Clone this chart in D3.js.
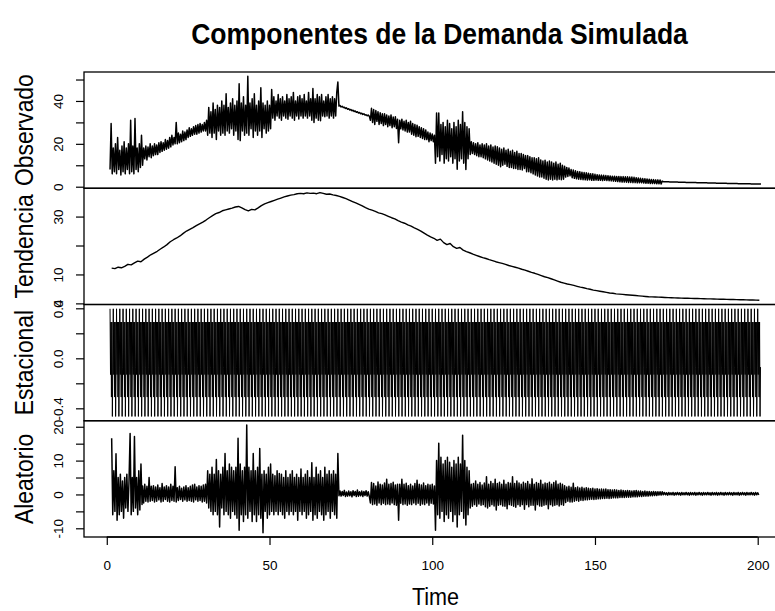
<!DOCTYPE html>
<html>
<head>
<meta charset="utf-8">
<script src="https://cdn.jsdelivr.net/npm/d3@7"></script>
<style>
  body { margin: 0; background: #fff; }
</style>
</head>
<body>
<div id="chart"></div>
<script>
/* Title and axis tick values */
var chartTitle = "Componentes de la Demanda Simulada";
var xLabel = "Time";
var xTicks = [0, 50, 100, 150, 200];
var panelNames = ["Observado", "Tendencia", "Estacional", "Aleatorio"];

var obsTicks = [0, 10, 20, 30, 40, 50];
var obsLabels = [0, 20, 40];
var trendTicks = [0, 10, 20, 30];
var trendLabels = [0, 10, 30];
var seasTicks = [-0.4, -0.2, 0, 0.2, 0.4];
var seasLabels = [-0.4, 0, 0.4];
var randTicks = [-10, -5, 0, 5, 10, 15, 20];
var randLabels = [-10, 0, 10, 20];

/* Observado, read in stretches, three readings per time unit */
var obsStep = 1 / 3;
var obsStarts = [1, 11, 31, 51, 71, 81, 101, 112, 143, 171];
var obs_t1 = [8, 29.5, 6, 18, 7, 20, 6, 23, 8, 17, 5.5, 19, 7, 21, 6, 18, 8, 20, 6, 31,
  7, 19, 6, 31.8, 8, 18, 7, 20, 9, 24];
var obs_t11 = [10, 18, 13, 19, 12.5, 18.5, 14, 20, 13.5, 19, 14.5, 20, 15, 19.5, 15, 20.5, 16, 21, 16.5, 20.5,
  17, 22, 17.5, 21.5, 18, 23, 18.6, 24, 19.5, 23, 20, 30, 20, 25, 20.5, 24.5, 21, 26, 21.5, 25.5,
  22, 26.5, 23, 27.5, 23.5, 27, 24, 28, 24.5, 28.5, 24.5, 29, 25, 29.5, 25.5, 29, 26, 30, 26, 31];
var obs_t31 = [24, 37, 25, 35, 23, 39, 25, 36, 22, 38, 26, 37, 24, 40, 25, 38, 24, 43.4, 26, 37,
  25, 39, 27, 41, 24, 38, 26, 40, 22, 48, 21.5, 39, 26, 42, 24, 38, 25, 51.5, 24, 39,
  27, 41, 23, 43.4, 26, 38, 24, 40, 26, 46.2, 23, 39, 27, 38, 25, 40, 26, 38, 27, 45.3];
var obs_t51 = [32, 42, 31, 40, 33, 43, 32, 41, 31, 42, 33, 40, 32, 43, 31.5, 41, 33, 42, 32, 44,
  31, 40, 33, 42, 31.6, 42.5, 33, 41, 32, 43, 33, 40, 32, 44, 33, 41, 31, 45.8, 30, 41,
  32, 43, 31, 42, 30.8, 43, 33, 40, 32.6, 42, 33, 43, 32, 41, 33, 42, 32, 41, 33, 44];
var obs_t71 = [48.8, 37.6, 37.9, 37.2, 37.5, 36.9, 37.1, 36.5, 36.8, 36.1, 36.4, 35.8, 36.0, 35.4, 35.7,
  35.1, 35.3, 34.7, 35.0, 34.4, 34.6, 34.0, 34.3, 33.7, 34.0, 33.4, 33.6, 33.1, 33.4, 32.9];
var obs_t81 = [31, 36.6, 30, 36, 29, 35.5, 30.5, 35, 29, 34.5, 29.5, 34, 28.5, 34, 29, 33.5, 28, 33, 28.5, 33.5,
  27.5, 32.5, 28, 32.6, 27.2, 31.5, 20.5, 31, 27, 31.5, 26.5, 30.5, 26, 31, 25.5, 30, 25.5, 30.5, 24.5, 29.5,
  24, 29, 23.3, 28.7, 23.5, 28, 23, 27.5, 22.5, 27, 22, 26.5, 22, 25.5, 21, 25, 21.5, 24.6, 21, 24];
var obs_t101 = [10.9, 34.4, 14, 34.4, 12, 29, 15, 30, 11, 28, 13, 31, 12, 29.5, 14, 27, 11, 30, 13, 28,
  8.1, 31, 12, 29, 13, 35, 11, 30, 8, 28, 13, 27, 15];
var obs_t112 = [21, 15.5, 20.5, 15, 20, 14.5, 20.5, 14, 19.5, 14, 20, 13.5, 19.5, 13, 20, 12.5, 19, 12, 19.5, 11.5,
  18.5, 11, 19, 10.5, 18.6, 10, 18, 9.3, 17.5, 10, 18, 10.5, 17, 9.5, 17.5, 9, 16.5, 9, 17, 8.5,
  16, 8.5, 16.5, 8, 15.5, 8, 15.5, 7.8, 15, 8.5, 14.5, 7, 14.5, 7, 14, 6.5, 13.5, 6, 13.5, 5.5,
  13, 5, 13.5, 4.5, 12.5, 4.5, 12, 4, 12.4, 3.5, 11.5, 3.1, 12, 3.5, 11.5, 3.1, 11, 3.5, 11.5, 3.2,
  10.5, 3.5, 11, 3.3, 10, 3.5, 9.5, 4.5, 9, 4.8, 8.7, 5.1, 8];
var obs_t143 = [4.2, 7.8, 3.9, 7.4, 3.7, 7.1, 3.5, 7.0, 3.4, 6.8, 3.3, 6.6, 3.2, 6.5, 3.1, 6.3, 3.2, 6.1, 3.0, 6.0,
  3.0, 5.8, 3.1, 5.6, 3.0, 5.5, 3.0, 5.4, 2.9, 5.3, 3.0, 5.2, 2.9, 5.1, 2.8, 5.0, 2.7, 4.9, 2.6, 4.9,
  2.5, 4.8, 2.4, 4.8, 2.3, 4.7, 2.2, 4.7, 2.2, 4.6, 2.1, 4.6, 2.0, 4.5, 2.0, 4.5, 1.9, 4.4, 1.9, 4.2,
  1.8, 4.1, 1.8, 3.9, 1.8, 3.8, 1.7, 3.7, 1.6, 3.6, 1.6, 3.5, 1.5, 3.4, 1.5, 3.3, 1.5, 3.2, 1.4, 3.2,
  1.4, 3.1, 1.3, 2.6];
var obs_t171 = [2.35, 2.33, 2.31, 2.30, 2.28, 2.26, 2.25, 2.23, 2.21, 2.20,
  2.18, 2.17, 2.15, 2.14, 2.12, 2.11, 2.09, 2.08, 2.06, 2.05,
  2.04, 2.02, 2.01, 2.00, 1.98, 1.97, 1.96, 1.94, 1.93, 1.92,
  1.91, 1.89, 1.88, 1.87, 1.86, 1.85, 1.83, 1.82, 1.81, 1.80,
  1.79, 1.77, 1.76, 1.75, 1.74, 1.72, 1.71, 1.70, 1.69, 1.67,
  1.66, 1.65, 1.64, 1.62, 1.61, 1.60, 1.59, 1.57, 1.56, 1.55,
  1.54, 1.52, 1.51, 1.50, 1.49, 1.47, 1.46, 1.45, 1.44, 1.43,
  1.42, 1.41, 1.40, 1.39, 1.38, 1.37, 1.36, 1.35, 1.34, 1.33,
  1.33, 1.32, 1.32, 1.31, 1.31, 1.30, 1.30, 1.30, 1.29, 1.29, 1.29];

/* Tendencia: moving average, one reading per time unit from 1.5 to 200.5 */
var trendStart = 1.5, trendStep = 1;
var tendencia = [
  12.2, 12.0, 12.5, 12.3, 12.8, 13.5, 13.3, 14.0, 14.6, 14.4,
  15.3, 16.0, 16.8, 17.4, 18.0, 18.8, 19.5, 20.3, 21.3, 22.0,
  22.6, 23.3, 24.2, 25.0, 25.6, 26.2, 26.9, 27.5, 28.1, 28.8,
  29.6, 30.3, 31.0, 31.4, 32.0, 32.3, 32.6, 32.9, 33.3, 33.5,
  33.0, 32.4, 32.0, 32.5, 32.3, 33.0, 33.8, 34.4, 34.8, 35.2,
  35.6, 36.0, 36.4, 36.8, 37.1, 37.4, 37.6, 37.9, 38.0, 37.9,
  38.2, 38.0, 38.1, 37.9, 38.3, 38.0, 37.7, 37.8, 37.5, 37.3,
  37.0, 36.6, 36.2, 35.7, 35.2, 34.7, 34.2, 33.7, 33.1, 32.6,
  32.2, 31.8, 31.3, 31.0, 30.6, 30.1, 29.6, 29.2, 28.6, 28.1,
  27.7, 27.1, 26.7, 26.1, 25.6, 25.0, 24.3, 23.6, 23.0, 22.5,
  21.8, 22.2, 21.0, 20.3, 20.7, 19.6, 19.0, 19.3, 18.4, 17.9,
  17.5, 17.0, 16.6, 16.2, 15.8, 15.5, 15.1, 14.8, 14.4, 14.1,
  13.8, 13.5, 13.1, 12.8, 12.5, 12.2, 11.8, 11.5, 11.1, 10.7,
  10.4, 10.0, 9.6, 9.2, 8.9, 8.5, 8.1, 7.7, 7.3, 7.0,
  6.7, 6.5, 6.2, 5.9, 5.6, 5.4, 5.1, 4.9, 4.6, 4.4,
  4.2, 4.0, 3.8, 3.6, 3.5, 3.3, 3.2, 3.1, 3.0,
  2.9, 2.8, 2.7, 2.6, 2.5, 2.4, 2.3, 2.25, 2.2, 2.15, 2.1,
  2.05, 2.0, 1.95, 1.9, 1.86, 1.82, 1.78, 1.75, 1.72, 1.69,
  1.66, 1.63, 1.6, 1.57, 1.54, 1.51, 1.48, 1.45, 1.42, 1.39,
  1.36, 1.33, 1.3, 1.27, 1.24, 1.21, 1.18, 1.15, 1.12, 1.1
];

/* Estacional: seasonal figure of one period (7 values), repeated over 200 periods */
var seasStart = 1, seasPeriods = 200;
var estacional = [0.396, -0.13, 0.29, -0.31, 0.29, -0.465, -0.07];

/* Aleatorio, read in stretches, three readings per time unit */
var randStep = 1 / 3;
var randStarts = [1.5, 11, 31, 71, 81, 101, 112, 141, 171];
var rand_t1 = [16.6, -6, 7, -5, 12, -7.6, 5, -6, 6, -5, 4, -7, 5, -4, 6, -5, 4, 18, -6, 5,
  -5, 17.1, -4, 5, -6, 7, -4.6, 9, -3];
var rand_t11 = [2.5, -2.5, 3, -2, 2.4, -2.2, 5, -2, 2.4, -1.8, 2.6, -2.2, 2.2, -2, 2.8, -1.6, 2, -2.2, 3.2, -2,
  2.2, -1.5, 2.6, -2, 2.2, -2.2, 3, -1.8, 2.4, -2, 8.2, -2.2, 2, -1.8, 2.4, -1.5, 1.8, -2, 2.2, -1.6,
  2.6, -2, 2, -1.8, 2.4, -2, 2.8, -2.2, 3, -1.6, 2.2, -2, 2.6, -1.8, 2.4, -2.2, 2.8, -2, 3, -2.5];
var rand_t31 = [7, -4, 6, -5, 8, -6, 6, -5, 10.3, -6, 7, -9.6, 6, -4, 8, -6, 12.1, -5, 7, -6,
  9, -7, 8, -5, 7, -6, 8, -7, 16.6, -10.6, 9, -6, 7, -8, 8, -6, 20.5, -7, 8, -5,
  7, -8, 12.1, -6, 7, -8, 8, -6, 13.6, -7, 6, -11.3, 7, -5, 6, -7, 8, -6, 9, -5,
  6, -6, 5.5, -5, 7, -6, 6.2, -5, 6, -6, 5, -7, 7, -5, 5, -6, 6, -5, 7, -6,
  5, -5, 6, -7.6, 5, -5, 7.5, -6, 5, -5, 6, -7, 7, -6, 5, -5, 9.4, -7.6, 5, -6,
  8, -7, 6, -5, 7, -6, 5, -7.6, 8, -6, 6, -5, 7, -7, 6, -5, 7, -6, 6, -7];
var rand_t71 = [12.1, -0.4, 1, -0.5, 0.9, -0.3, 1.2, -0.6, 0.7, -0.5, 1, -0.4, 0.8, -0.7, 1.1,
  -0.3, 0.9, -0.6, 1.3, -0.5, 0.8, -0.4, 1, -0.6, 0.9, -0.3, 1.1, -0.5, 0.8, -0.6];
var rand_t81 = [-2.5, 3.5, -3, 3.2, -2.8, 2.5, -3.2, 3.7, -2.5, 3, -3, 2.8, -2.6, 3.4, -3, 4.5, -2.8, 3, -3, 3.2,
  -2.5, 3.6, -3, 2.8, -3.2, 3, -7.6, 3, -2.6, 4.5, -3, 3, -2.8, 3.3, -3.2, 2.6, -2.8, 3, -3, 2.5,
  -2.5, 3.2, -3, 4.2, -2.6, 3, -3.2, 2.8, -2.8, 3.4, -3, 2.6, -2.5, 3, -3.2, 2.8, -2.6, 3, -2.8, 2.5];
var rand_t101 = [-10.6, 10, -6, 15.1, -7, 11, -5, 9, -8, 10, -6, 11, -7, 9.5, -5, 8, -8, 10, -6, 9,
  -9.6, 11, -6, 9, -5, 17.5, -7, 10, -9, 8, -6, 7, -4];
var rand_t112 = [3, -3.5, 3.2, -3, 4, -3.5, 3, -2.8, 3.5, -3.2, 2.8, -3, 3.4, -3.6, 5.2, -4, 3, -3.5, 3.8, -3,
  3.2, -3.4, 4.5, -4.6, 3.2, -3.2, 3.6, -3, 3, -3.4, 4.2, -3.5, 3, -4.2, 3.5, -3, 3.3, -3.2, 5.2, -3.5,
  3.2, -3.8, 4, -3, 3.4, -3.5, 3, -3, 3.6, -4.4, 3.2, -3, 3.8, -3.6, 3, -3.2, 4.6, -3.2, 3, -4.6,
  3.5, -3, 3.2, -3.4, 4.2, -3.5, 3, -3.2, 3.4, -3, 3.2, -4.2, 3.6, -3, 3, -3.4, 3.5, -3.2, 4, -3,
  3, -3.4, 3.3, -3, 3, -3.2, 2.6];
var rand_t141 = [-2.4, 2.2, -2, 2.4, -2.2, 2.1, -2.2, 3.3, -2, 2, -1.8, 2.2, -2, 1.9, -1.7, 2.1, -1.8, 1.8, -1.6, 2,
  -1.6, 1.8, -1.5, 1.7, -1.4, 1.8, -1.5, 1.6, -1.4, 1.7, -1.3, 1.5, -1.3, 1.6, -1.2, 1.5, -1.2, 1.6, -1.1, 1.4,
  -1.2, 1.4, -1.1, 1.3, -1, 1.4, -1, 1.3, -1, 1.2, -0.9, 1.3, -0.9, 1.2, -0.9, 1.1, -0.8, 1.2, -0.8, 1.1,
  -0.8, 1, -0.7, 1.1, -0.7, 1.2, -0.7, 1, -0.6, 1, -0.6, 0.9, -0.5, 1, -0.5, 0.9, -0.5, 0.9, -0.4, 0.8,
  -0.4, 0.9, -0.3, 0.8, -0.3, 0.8, -0.2, 0.8, -0.2, 0.8];
var rand_t171 = [-0.1, 0.6, -0.1, 0.5, -0.2, 0.6, -0.1, 0.5, -0.1, 0.6,
  -0.2, 0.5, -0.1, 0.6, -0.1, 0.5, -0.2, 0.6, -0.1, 0.5,
  -0.1, 0.6, -0.1, 0.5, -0.2, 0.6, -0.1, 0.5, -0.1, 0.6,
  -0.2, 0.5, -0.1, 0.6, -0.1, 0.5, -0.2, 0.6, -0.1, 0.5,
  -0.1, 0.6, -0.1, 0.5, -0.2, 0.6, -0.1, 0.5, -0.1, 0.6,
  -0.2, 0.5, -0.1, 0.6, -0.1, 0.5, -0.2, 0.6, -0.1, 0.5,
  -0.1, 0.6, -0.1, 0.5, -0.2, 0.6, -0.1, 0.5, -0.1, 0.6,
  -0.2, 0.5, -0.1, 0.6, -0.1, 0.5, -0.2, 0.6, -0.1, 0.5,
  -0.1, 0.6, -0.1, 0.5, -0.2, 0.6, -0.1, 0.5, -0.1];

var obsStretches = [obs_t1, obs_t11, obs_t31, obs_t51, obs_t71, obs_t81, obs_t101, obs_t112, obs_t143, obs_t171];
var randStretches = [rand_t1, rand_t11, rand_t31, rand_t71, rand_t81, rand_t101, rand_t112, rand_t141, rand_t171];

/* ---------- layout ---------- */
var width = 775, height = 611;
var plotLeft = 84, plotRight = 787, plotTop = 72, plotBottom = 537;
var panelH = (plotBottom - plotTop) / 4;
var fontFamily = "'Liberation Sans', Arial, Helvetica, sans-serif";

/* R style axis range: data range widened by 4% on each side */
function rRange (ext) {
    var r = ext[1] - ext[0];
    return [ext[0] - 0.04 * r, ext[1] + 0.04 * r];
}

/* Turn stretches of readings into one {t, v} series */
function fromStretches (stretches, starts, step) {
    var out = [];
    stretches.forEach(function (vals, k) {
        vals.forEach(function (v, i) { out.push({ t: starts[k] + i * step, v: v }); });
    });
    return out;
}

var obsSeries = fromStretches(obsStretches, obsStarts, obsStep);
var randSeries = fromStretches(randStretches, randStarts, randStep);
var trendSeries = fromStretches([tendencia], [trendStart], trendStep);
var seasSeries = d3.range(seasPeriods * estacional.length).map(function (i) {
    return { t: seasStart + i / estacional.length, v: estacional[i % estacional.length] };
});

function fmtPlain (d) { return String(d); }
function fmtOne (d) { return d.toFixed(1); }

var panels = [
    { name: panelNames[0], data: obsSeries, ticks: obsTicks, labels: obsLabels, fmt: fmtPlain, lw: 1.5 },
    { name: panelNames[1], data: trendSeries, ticks: trendTicks, labels: trendLabels, fmt: fmtPlain, lw: 1.4 },
    { name: panelNames[2], data: seasSeries, ticks: seasTicks, labels: seasLabels, fmt: fmtOne, lw: 1 },
    { name: panelNames[3], data: randSeries, ticks: randTicks, labels: randLabels, fmt: fmtPlain, lw: 1.5 }
];

var x = d3.scaleLinear()
    .domain(rRange(d3.extent(obsSeries, function (d) { return d.t; })))
    .range([plotLeft, plotRight]);

var svg = d3.select("#chart")
    .append("svg")
    .attr("width", width)
    .attr("height", height)
    .style("font-family", fontFamily);

svg.append("rect")
    .attr("width", width)
    .attr("height", height)
    .attr("fill", "#fff");

/* Title (R's title font is narrower than Liberation Sans, hence the squeeze) */
svg.append("text")
    .attr("transform", "translate(" + ((plotLeft + plotRight) / 2 + 4) + ",44) scale(0.915,1)")
    .attr("text-anchor", "middle")
    .attr("font-size", 29)
    .attr("font-weight", "bold")
    .text(chartTitle);

/* One panel per component */
panels.forEach(function (p, k) {
    var y0 = plotTop + k * panelH, y1 = y0 + panelH;

    var y = d3.scaleLinear()
        .domain(rRange(d3.extent(p.data, function (d) { return d.v; })))
        .range([y1, y0]);

    var g = svg.append("g").attr("class", "panel");

    g.append("path")
        .datum(p.data)
        .attr("fill", "none")
        .attr("stroke", "#000")
        .attr("stroke-width", p.lw)
        .attr("stroke-linejoin", "round")
        .attr("d", d3.line()
            .x(function (d) { return x(d.t); })
            .y(function (d) { return y(d.v); }));

    /* Left axis, labels parallel to the axis as in R */
    var ax = g.append("g")
        .attr("transform", "translate(" + plotLeft + ",0)")
        .call(d3.axisLeft(y)
            .tickValues(p.ticks)
            .tickSize(8)
            .tickSizeOuter(0)
            .tickFormat(function (d) { return p.labels.indexOf(d) >= 0 ? p.fmt(d) : ""; }));
    ax.select(".domain").remove();
    ax.attr("font-family", fontFamily).attr("font-size", 13.5);
    ax.selectAll(".tick line").attr("stroke-width", 1.2);
    ax.selectAll(".tick text")
        .attr("x", 0)
        .attr("dy", null)
        .attr("text-anchor", "middle")
        .attr("fill", "#000")
        .attr("transform", "translate(-21,0) rotate(-90)");

    /* Panel frame */
    g.append("rect")
        .attr("x", plotLeft)
        .attr("y", y0)
        .attr("width", plotRight - plotLeft)
        .attr("height", panelH)
        .attr("fill", "none")
        .attr("stroke", "#000")
        .attr("stroke-width", 1.3);

    /* Panel name */
    g.append("text")
        .attr("transform", "translate(33," + ((y0 + y1) / 2) + ") rotate(-90) scale(0.88,1)")
        .attr("text-anchor", "middle")
        .attr("font-size", 26)
        .text(p.name);
});

/* Bottom time axis */
var xa = svg.append("g")
    .attr("transform", "translate(0," + plotBottom + ")")
    .call(d3.axisBottom(x)
        .tickValues(xTicks)
        .tickSize(8)
        .tickSizeOuter(0)
        .tickFormat(function (d) { return String(d); }));
xa.select(".domain")
    .attr("stroke-width", 1.3)
    .attr("d", "M" + x(xTicks[0]) + ",0H" + x(xTicks[xTicks.length - 1]));
xa.attr("font-family", fontFamily).attr("font-size", 13.5);
xa.selectAll(".tick line").attr("stroke-width", 1.2);
xa.selectAll(".tick text")
    .attr("y", 33)
    .attr("dy", null)
    .attr("fill", "#000");

svg.append("text")
    .attr("transform", "translate(" + ((plotLeft + plotRight) / 2) + ",605) scale(0.9,1)")
    .attr("text-anchor", "middle")
    .attr("font-size", 24)
    .text(xLabel);
</script>
</body>
</html>
